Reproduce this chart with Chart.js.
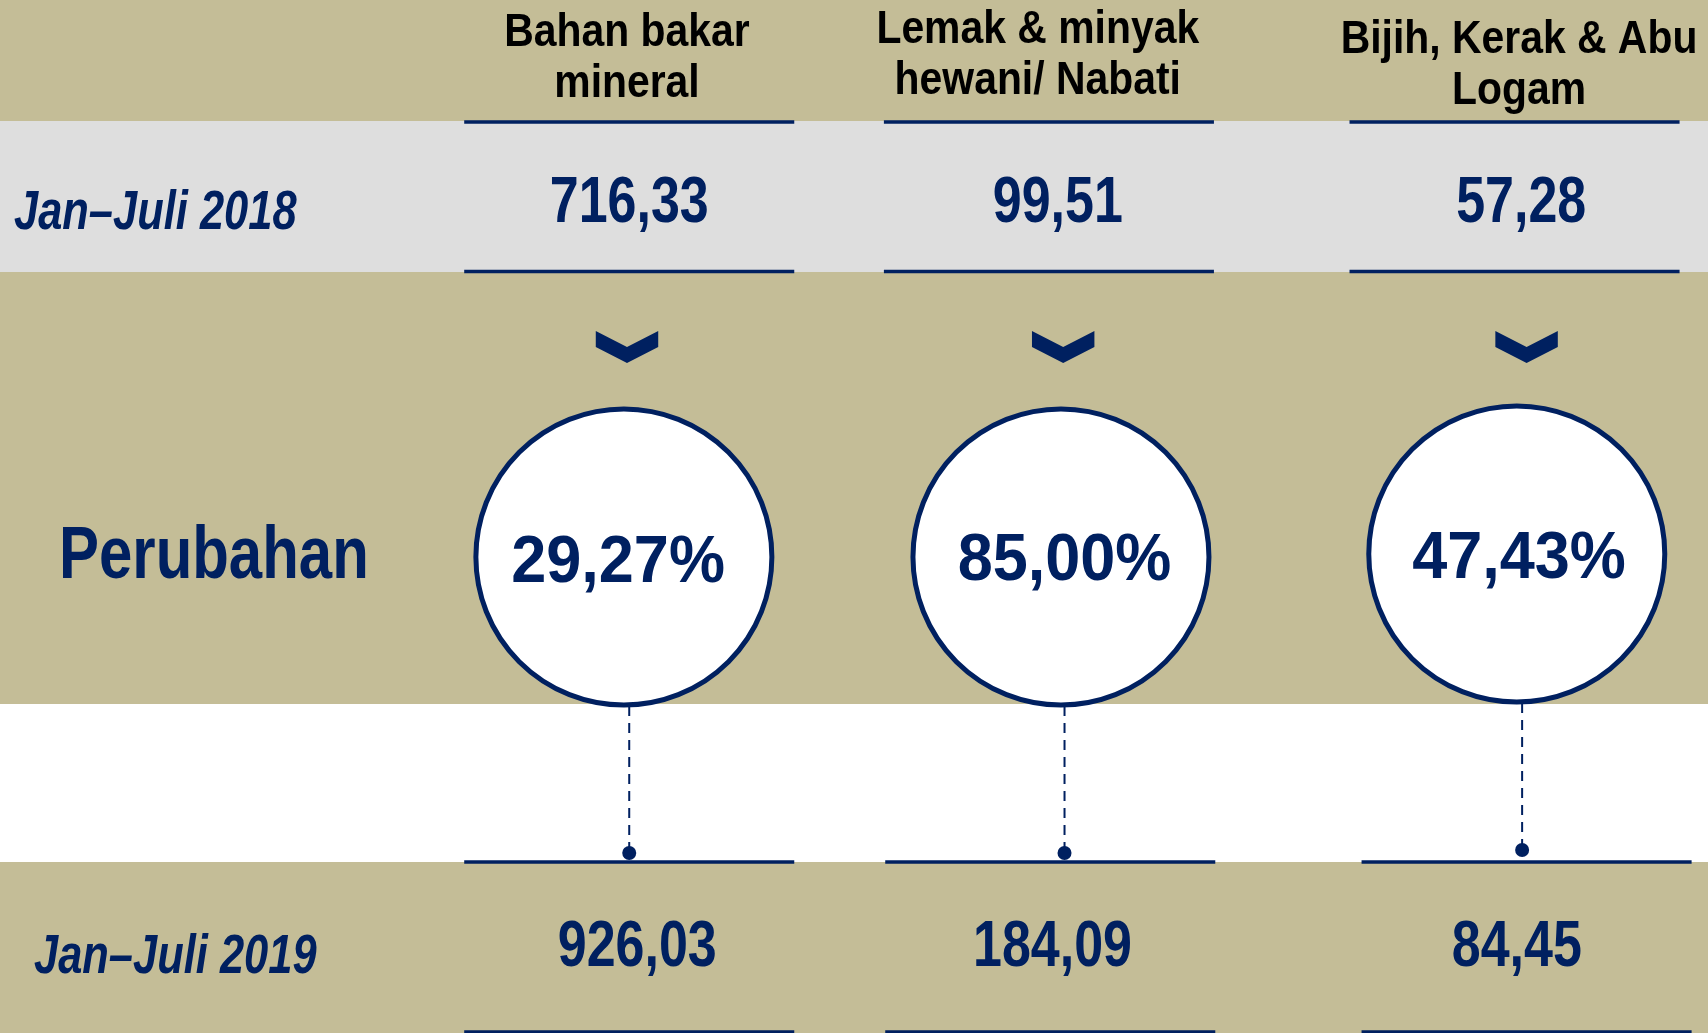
<!DOCTYPE html>
<html>
<head>
<meta charset="utf-8">
<script src="https://cdn.jsdelivr.net/npm/chart.js@4"></script>
<style>
  html, body { margin: 0; padding: 0; background: #ffffff; overflow: hidden; }
  #wrap { width: 1708px; height: 1033px; position: relative; }
</style>
</head>
<body>
<div id="wrap"><canvas id="chart"></canvas></div>
<script>
// ---------------- DATA ----------------
const categories = ['Bahan bakar mineral', 'Lemak & minyak hewani/ Nabati', 'Bijih, Kerak & Abu Logam'];
const categoryLines = [['Bahan bakar', 'mineral'], ['Lemak & minyak', 'hewani/ Nabati'], ['Bijih, Kerak & Abu', 'Logam']];
const periods = ['Jan\u2013Juli 2018', 'Jan\u2013Juli 2019'];
const values2018 = [716.33, 99.51, 57.28];
const values2019 = [926.03, 184.09, 84.45];
const changePct = [29.27, 85.00, 47.43];
const changeLabel = 'Perubahan';

// ---------------- STYLE / LAYOUT ----------------
const NAVY = '#002060';
const KHAKI = '#C4BD97';
const GRAY = '#DEDEDE';
const FONT = '"Liberation Sans", Arial, Helvetica, sans-serif';

// column anchors on the x scale (scale units)
const COLUMN_POS = [1, 1.966, 3];
// small per-column nudges (scale units) for each element group
const SHIFT = {
  header: [0, -0.045, 0],
  chevron: [0, 0.012, 0.017],
  circle: [-0.007, 0.007, -0.005],
  pct: [-0.02, 0.015, 0],
  connector: [0.005, 0.015, 0.007],
  ruleTop: [0.005, -0.02, -0.01],
  ruleBottom: [0.005, -0.017, 0.017],
  v2018: [0.005, 0, 0.005],
  v2019: [0.023, -0.012, -0.005]
};
// layout grid on the y scale (units of the reversed linear scale)
const ROW = {
  headerBase: [46, 43, 53], headerGap: 51,
  value2018Base: 222, label2018Base: 229,
  chevronTop: 331, chevronArm: 16, chevronHalf: 0.07,
  circle: [557, 557, 554], circleBottom: [706, 706, 703], dot: [853, 853, 850],
  changeBase: [582, 580, 578], changeLabelBase: 578,
  value2019Base: 966, label2019Base: 973
};
const BANDS = [
  { from: 0, to: 121, color: KHAKI },
  { from: 121, to: 272, color: GRAY },
  { from: 272, to: 704, color: KHAKI },
  { from: 704, to: 862, color: '#FFFFFF' },
  { from: 862, to: 1033, color: KHAKI }
];
const RULES = [
  { y: 122, shift: SHIFT.ruleTop },
  { y: 271.5, shift: SHIFT.ruleTop },
  { y: 862, shift: SHIFT.ruleBottom },
  { y: 1032, shift: SHIFT.ruleBottom }
];
const RULE_HALF = 0.37;

const fmt = v => v.toFixed(2).replace('.', ',');

function drawText(ctx, text, px, py, o) {
  ctx.save();
  ctx.font = `${o.italic ? 'italic ' : ''}bold ${o.size}px ${FONT}`;
  ctx.fillStyle = o.color || NAVY;
  ctx.textBaseline = 'alphabetic';
  ctx.textAlign = o.align || 'center';
  ctx.translate(px, py);
  ctx.scale(o.sx || 1, 1);
  ctx.fillText(text, 0, 0);
  ctx.restore();
}

const infographic = {
  id: 'infographic',
  beforeDatasetsDraw(chart) {
    const { ctx, chartArea: a, scales: { x, y } } = chart;
    ctx.save();
    BANDS.forEach(b => {
      const t = y.getPixelForValue(b.from), bt = y.getPixelForValue(b.to);
      ctx.fillStyle = b.color;
      ctx.fillRect(a.left, t, a.right - a.left, bt - t);
    });
    ctx.strokeStyle = NAVY;
    ctx.lineWidth = 3.5;
    RULES.forEach(r => {
      COLUMN_POS.forEach((c, i) => {
        const py = y.getPixelForValue(r.y);
        const cc = c + r.shift[i];
        ctx.beginPath();
        ctx.moveTo(x.getPixelForValue(cc - RULE_HALF), py);
        ctx.lineTo(x.getPixelForValue(cc + RULE_HALF), py);
        ctx.stroke();
      });
    });
    // chevrons
    ctx.fillStyle = NAVY;
    COLUMN_POS.forEach((c0, i) => {
      const c = c0 + SHIFT.chevron[i];
      const l = x.getPixelForValue(c - ROW.chevronHalf), m = x.getPixelForValue(c), r = x.getPixelForValue(c + ROW.chevronHalf);
      const t = y.getPixelForValue(ROW.chevronTop);
      const k = y.getPixelForValue(ROW.chevronTop + ROW.chevronArm) - t;
      ctx.beginPath();
      ctx.moveTo(l, t);
      ctx.lineTo(m, t + k);
      ctx.lineTo(r, t);
      ctx.lineTo(r, t + k);
      ctx.lineTo(m, t + 2 * k);
      ctx.lineTo(l, t + k);
      ctx.closePath();
      ctx.fill();
    });
    ctx.restore();
  },
  afterDatasetsDraw(chart) {
    const { ctx, chartArea: a, scales: { x, y } } = chart;
    // header category labels
    categoryLines.forEach((lines, i) => {
      const px = x.getPixelForValue(COLUMN_POS[i] + SHIFT.header[i]);
      lines.forEach((ln, j) => {
        drawText(ctx, ln, px, y.getPixelForValue(ROW.headerBase[i] + j * ROW.headerGap),
          { size: 47, sx: 0.87, color: '#000000' });
      });
    });
    // row labels
    drawText(ctx, periods[0], a.left + 14, y.getPixelForValue(ROW.label2018Base), { size: 55, sx: 0.79, italic: true, align: 'left' });
    drawText(ctx, periods[1], a.left + 34, y.getPixelForValue(ROW.label2019Base), { size: 55, sx: 0.79, italic: true, align: 'left' });
    drawText(ctx, changeLabel, a.left + 59, y.getPixelForValue(ROW.changeLabelBase), { size: 74, sx: 0.81, align: 'left' });
    // values
    values2018.forEach((v, i) => drawText(ctx, fmt(v), x.getPixelForValue(COLUMN_POS[i] + SHIFT.v2018[i]), y.getPixelForValue(ROW.value2018Base), { size: 65, sx: 0.8 }));
    values2019.forEach((v, i) => drawText(ctx, fmt(v), x.getPixelForValue(COLUMN_POS[i] + SHIFT.v2019[i]), y.getPixelForValue(ROW.value2019Base), { size: 65, sx: 0.8 }));
    changePct.forEach((v, i) => drawText(ctx, fmt(v) + '%', x.getPixelForValue(COLUMN_POS[i] + SHIFT.pct[i]), y.getPixelForValue(ROW.changeBase[i]), { size: 67, sx: 0.94 }));
  }
};

// ---------------- DATASETS ----------------
const circleData = categories.map((c, i) => ({ x: COLUMN_POS[i] + SHIFT.circle[i], y: ROW.circle[i] }));
const connectorSets = categories.map((c, i) => ({
  type: 'line',
  label: c,
  data: [
    { x: COLUMN_POS[i] + SHIFT.connector[i], y: ROW.circleBottom[i] },
    { x: COLUMN_POS[i] + SHIFT.connector[i], y: ROW.dot[i] }
  ],
  borderColor: NAVY,
  borderWidth: 2,
  borderDash: [10, 7],
  pointRadius: [0, 7],
  pointBackgroundColor: NAVY,
  pointBorderWidth: 0,
  showLine: true,
  fill: false,
  clip: false
}));

const pxPerUnit = 446;
const xMin = 1 - 627 / pxPerUnit;
const xMax = xMin + 1708 / pxPerUnit;

new Chart(document.getElementById('chart'), {
  type: 'scatter',
  data: {
    datasets: [
      {
        label: changeLabel,
        data: circleData,
        pointRadius: 148,
        pointBackgroundColor: '#FFFFFF',
        pointBorderColor: NAVY,
        pointBorderWidth: 5,
        clip: false
      },
      ...connectorSets
    ]
  },
  options: {
    responsive: true,
    maintainAspectRatio: false,
    animation: false,
    events: [],
    layout: { padding: 0, autoPadding: false },
    plugins: { legend: { display: false }, tooltip: { enabled: false } },
    scales: {
      x: { type: 'linear', min: xMin, max: xMax, display: false },
      y: { type: 'linear', min: 0, max: 1033, reverse: true, display: false }
    }
  },
  plugins: [infographic]
});
</script>
</body>
</html>
